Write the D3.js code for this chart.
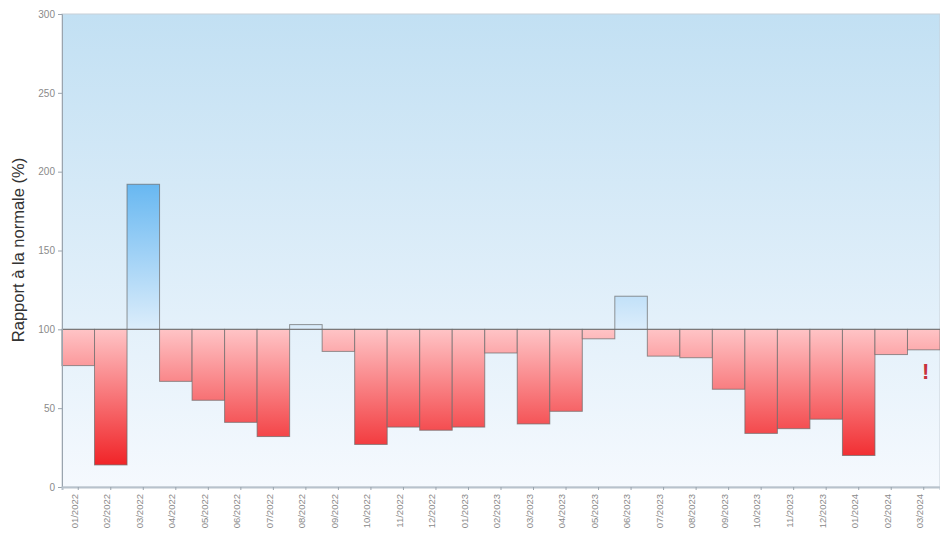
<!DOCTYPE html>
<html><head><meta charset="utf-8">
<script src="https://cdn.jsdelivr.net/npm/d3@7/dist/d3.min.js"></script>
<style>body{margin:0;background:#fff;font-family:"Liberation Sans",Arial,sans-serif}</style>
</head><body><svg id="c" width="940" height="538"></svg>
<script>
const months = ["01/2022","02/2022","03/2022","04/2022","05/2022","06/2022","07/2022","08/2022","09/2022","10/2022","11/2022","12/2022","01/2023","02/2023","03/2023","04/2023","05/2023","06/2023","07/2023","08/2023","09/2023","10/2023","11/2023","12/2023","01/2024","02/2024","03/2024"];
const ratios = [77,14,192,67,55,41,32,103,86,27,38,36,38,85,40,48,94,121,83,82,62,34,37,43,20,84,87];
const flagged = ["03/2024"];
const yTicks = [0,50,100,150,200,250,300];
const yLabel = "Rapport à la normale (%)";

const svg = d3.select("#c");
const m = {l:62, r:0, t:14, b:51};
const W = 940, H = 538;
const x = d3.scaleBand().domain(months).range([m.l, W-m.r]).padding(0);
const y = d3.scaleLinear().domain([0,300]).range([H-m.b, m.t]);

const defs = svg.append("defs");
const bg = defs.append("linearGradient").attr("id","bg").attr("x1",0).attr("y1",0).attr("x2",0).attr("y2",1);
bg.append("stop").attr("offset","0%").attr("stop-color","#c2e0f3");
bg.append("stop").attr("offset","100%").attr("stop-color","#f5f9fe");
const rg = defs.append("linearGradient").attr("id","rg").attr("gradientUnits","userSpaceOnUse")
  .attr("x1",0).attr("x2",0).attr("y1",y(100)).attr("y2",y(0));
rg.append("stop").attr("offset","0%").attr("stop-color","#ffc4c6");
rg.append("stop").attr("offset","100%").attr("stop-color","#ee0a0e");
const bgr = defs.append("linearGradient").attr("id","bgr").attr("gradientUnits","userSpaceOnUse")
  .attr("x1",0).attr("x2",0).attr("y1",y(100)).attr("y2",y(195));
bgr.append("stop").attr("offset","0%").attr("stop-color","#dcedfb");
bgr.append("stop").attr("offset","100%").attr("stop-color","#64b6f1");

svg.append("rect").attr("x",m.l).attr("y",m.t).attr("width",W-m.r-m.l).attr("height",y(0)-m.t)
  .attr("fill","url(#bg)").attr("stroke","#c8d0d8").attr("stroke-width",1);

const data = months.map((mo,i)=>({mo, v:ratios[i]}));
svg.append("g").selectAll("rect").data(data).join("rect")
  .attr("x",d=>x(d.mo)).attr("width",x.bandwidth())
  .attr("y",d=>y(Math.max(d.v,100))).attr("height",d=>Math.abs(y(d.v)-y(100)))
  .attr("fill",d=>d.v<100?"url(#rg)":"url(#bgr)")
  .attr("stroke","#6a6a6a").attr("stroke-opacity",0.7).attr("stroke-width",1);

svg.append("line").attr("x1",m.l).attr("x2",W-m.r).attr("y1",y(100)).attr("y2",y(100))
  .attr("stroke","#6a6a6a").attr("stroke-opacity",0.8);

svg.append("g").selectAll("text").data(data.filter(d=>flagged.includes(d.mo))).join("text")
  .attr("x",d=>x(d.mo)+x.bandwidth()/2+2).attr("y",d=>y(d.v)+29)
  .attr("text-anchor","middle").attr("fill","#c8323c").attr("font-size",22).attr("font-weight","bold")
  .text("!");

const ya = svg.append("g").attr("transform",`translate(${m.l},0)`)
  .call(d3.axisLeft(y).tickValues(yTicks).tickSize(4).tickPadding(3));
ya.select(".domain").attr("stroke","#9aa4ae");
ya.selectAll(".tick line").attr("stroke","#9aa4ae");
ya.selectAll(".tick text").attr("fill","#8a8a8a").attr("font-size",10);

const xa = svg.append("g").attr("transform",`translate(0,${y(0)})`)
  .call(d3.axisBottom(x).tickSize(3).tickPadding(3));
xa.select(".domain").attr("stroke","#b8c2cc").attr("stroke-width",2);
xa.selectAll(".tick line").attr("stroke","#9aa4ae");
xa.selectAll(".tick text").attr("fill","#8a8a8a").attr("font-size",9.5)
  .attr("transform","rotate(-90)").attr("text-anchor","end").attr("x",-7).attr("y",-4).attr("dy","0.35em");

svg.append("text").attr("transform",`translate(24,250) rotate(-90)`)
  .attr("text-anchor","middle").attr("fill","#333").attr("font-size",16.5).text(yLabel);
</script></body></html>
